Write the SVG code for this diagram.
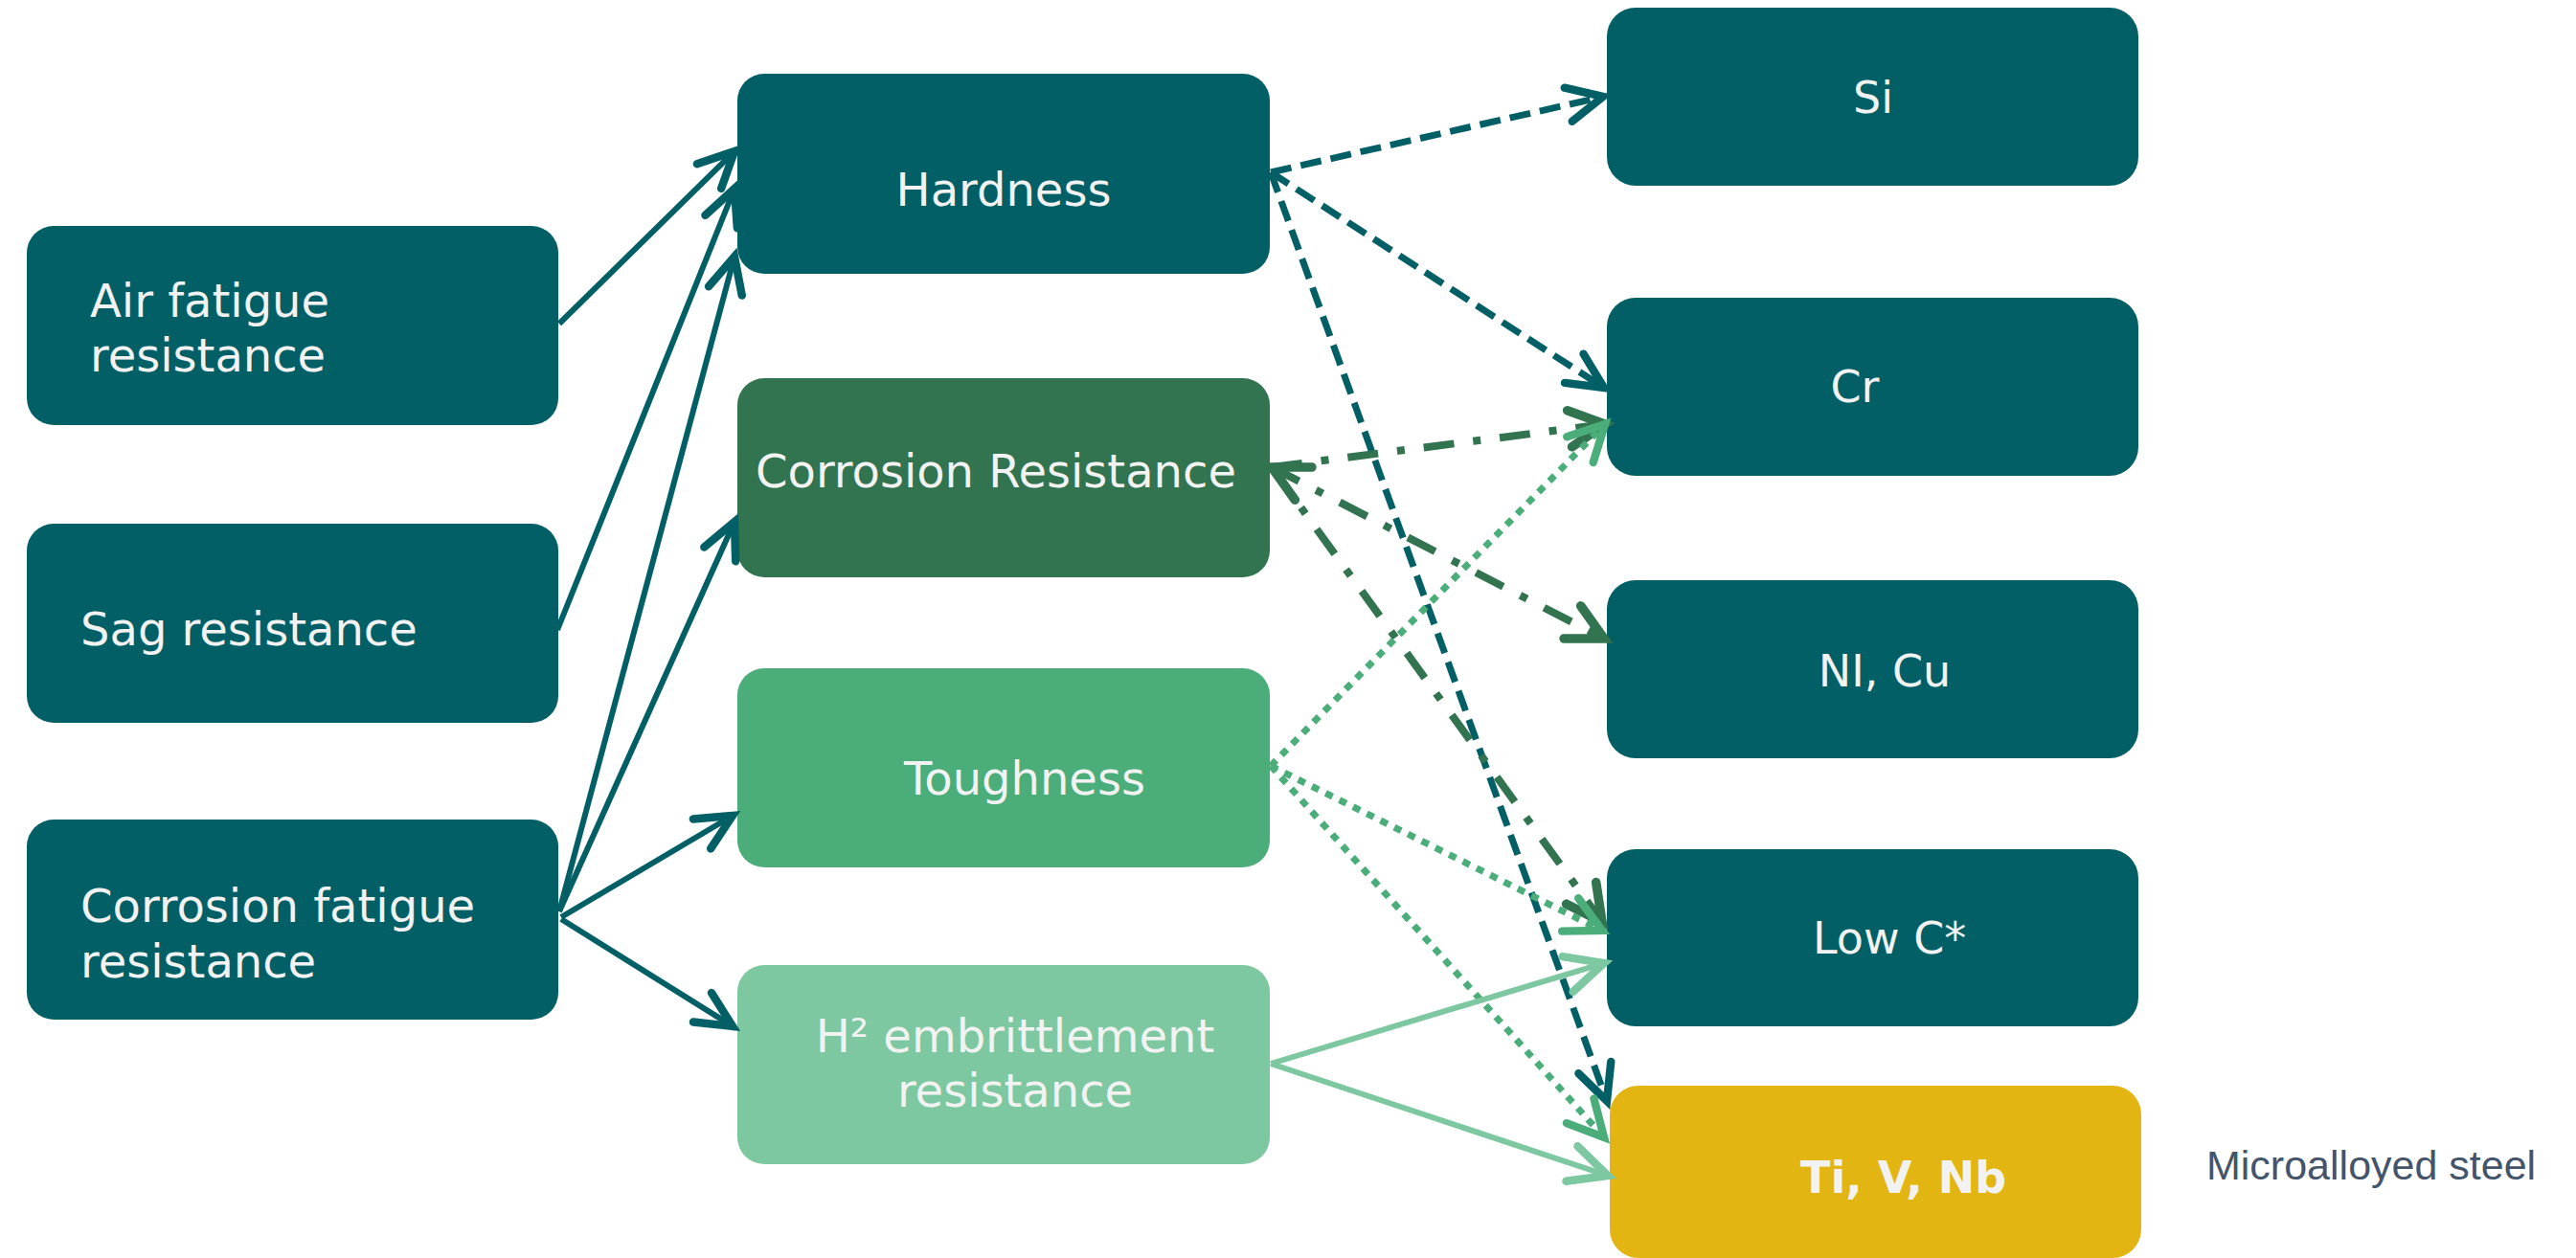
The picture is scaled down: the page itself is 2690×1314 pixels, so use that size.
<svg xmlns="http://www.w3.org/2000/svg" width="2690" height="1314" viewBox="0 0 2690 1314">
<style>
  .t { font-family: "DejaVu Sans", sans-serif; font-size: 48px; fill: #F2F2F2; }
  .tr { font-family: "DejaVu Sans", sans-serif; font-size: 46px; fill: #F2F2F2; }
  .tb { font-family: "DejaVu Sans", sans-serif; font-size: 46px; font-weight: bold; fill: #F2F2F2; }
  .teal { fill: #025F65; }
  .dkg { fill: #327350; }
  .grn { fill: #4BAE7A; }
  .lgr { fill: #7EC8A1; }
  .yel { fill: #E2B512; }
  .c-teal { stroke: #025F65; stroke-width: 6; fill: none; }
  .c-dash { stroke: #025F65; stroke-width: 7; fill: none; stroke-dasharray: 22 10; }
  .c-dd { stroke: #327350; stroke-width: 8; fill: none; stroke-dasharray: 32 20 8 20; }
  .c-dot { stroke: #4BAE7A; stroke-width: 7; fill: none; stroke-dasharray: 8 8; }
  .c-lg { stroke: #7EC8A1; stroke-width: 6; fill: none; }
</style>
<defs>
  <marker id="aTeal" markerUnits="userSpaceOnUse" markerWidth="60" markerHeight="60" viewBox="-40 -25 50 50" refX="0" refY="0" orient="auto-start-reverse" overflow="visible">
    <path d="M -31 -15 L 0 0 L -31 15" fill="none" stroke="#025F65" stroke-width="7" stroke-linecap="round" stroke-linejoin="miter"/>
  </marker>
  <marker id="aDkg" markerUnits="userSpaceOnUse" markerWidth="60" markerHeight="60" viewBox="-40 -25 50 50" refX="0" refY="0" orient="auto-start-reverse" overflow="visible">
    <path d="M -31 -16 L 0 0 L -31 16" fill="none" stroke="#327350" stroke-width="8" stroke-linecap="round"/>
  </marker>
  <marker id="aGrn" markerUnits="userSpaceOnUse" markerWidth="60" markerHeight="60" viewBox="-40 -25 50 50" refX="0" refY="0" orient="auto-start-reverse" overflow="visible">
    <path d="M -31 -16 L 0 0 L -31 16" fill="none" stroke="#4BAE7A" stroke-width="7" stroke-linecap="round"/>
  </marker>
  <marker id="aLgr" markerUnits="userSpaceOnUse" markerWidth="60" markerHeight="60" viewBox="-40 -25 50 50" refX="0" refY="0" orient="auto-start-reverse" overflow="visible">
    <path d="M -33 -16 L 0 0 L -33 16" fill="none" stroke="#7EC8A1" stroke-width="7" stroke-linecap="round"/>
  </marker>
</defs>
<rect width="2690" height="1314" fill="#FFFFFF"/>

<g id="air-fatigue">
  <rect class="teal" x="28" y="236" width="555" height="208" rx="28"/>
  <text class="t" x="94" y="331">Air fatigue</text>
  <text class="t" x="94" y="388">resistance</text>
</g>
<g id="sag-resistance">
  <rect class="teal" x="28" y="547" width="555" height="208" rx="28"/>
  <text class="t" x="84" y="674">Sag resistance</text>
</g>
<g id="corrosion-fatigue">
  <rect class="teal" x="28" y="856" width="555" height="209" rx="28"/>
  <text class="t" x="84" y="963">Corrosion fatigue</text>
  <text class="t" x="84" y="1021">resistance</text>
</g>

<g id="hardness">
  <rect class="teal" x="770" y="77" width="556" height="209" rx="28"/>
  <text class="t" x="1048" y="215" text-anchor="middle">Hardness</text>
</g>
<g id="corrosion-resistance">
  <rect class="dkg" x="770" y="395" width="556" height="208" rx="28"/>
  <text class="t" x="1040" y="509" text-anchor="middle">Corrosion Resistance</text>
</g>
<g id="toughness">
  <rect class="grn" x="770" y="698" width="556" height="208" rx="28"/>
  <text class="t" x="1070" y="830" text-anchor="middle">Toughness</text>
</g>
<g id="h2-embrittlement">
  <rect class="lgr" x="770" y="1008" width="556" height="208" rx="28"/>
  <text class="t" x="1060" y="1099" text-anchor="middle">H² embrittlement</text>
  <text class="t" x="1060" y="1156" text-anchor="middle">resistance</text>
</g>

<g id="si">
  <rect class="teal" x="1678" y="8" width="555" height="186" rx="30"/>
  <text class="tr" x="1956" y="118" text-anchor="middle">Si</text>
</g>
<g id="cr">
  <rect class="teal" x="1678" y="311" width="555" height="186" rx="30"/>
  <text class="tr" x="1937" y="420" text-anchor="middle">Cr</text>
</g>
<g id="ni-cu">
  <rect class="teal" x="1678" y="606" width="555" height="186" rx="30"/>
  <text class="tr" x="1968" y="717" text-anchor="middle">NI, Cu</text>
</g>
<g id="low-c">
  <rect class="teal" x="1678" y="887" width="555" height="185" rx="30"/>
  <text class="tr" x="1893" y="996">Low C*</text>
</g>
<g id="ti-v-nb">
  <rect class="yel" x="1681" y="1134" width="555" height="180" rx="30"/>
  <text class="tb" x="1880" y="1246">Ti, V, Nb</text>
</g>
<g id="microalloyed-label">
  <text x="2304" y="1232" font-family="Liberation Sans, sans-serif" font-size="43" fill="#44546A">Microalloyed steel</text>
</g>

<g id="connectors">
  <line class="c-teal" x1="584" y1="338" x2="767" y2="158" marker-end="url(#aTeal)"/>
  <line class="c-teal" x1="582" y1="658" x2="767" y2="197" marker-end="url(#aTeal)"/>
  <line class="c-teal" x1="584" y1="952" x2="767" y2="268" marker-end="url(#aTeal)"/>
  <line class="c-teal" x1="584" y1="952" x2="767" y2="545" marker-end="url(#aTeal)"/>
  <line class="c-teal" x1="586" y1="958" x2="765" y2="852" marker-end="url(#aTeal)"/>
  <line class="c-teal" x1="586" y1="960" x2="765" y2="1072" marker-end="url(#aTeal)"/>

  <line class="c-dash" x1="1327" y1="180" x2="1674" y2="101" marker-end="url(#aTeal)"/>
  <line class="c-dash" x1="1327" y1="180" x2="1675" y2="405" marker-end="url(#aTeal)"/>
  <line class="c-dash" x1="1327" y1="180" x2="1678" y2="1150" marker-end="url(#aTeal)"/>

  <line class="c-dd" x1="1328" y1="488" x2="1676" y2="443" marker-end="url(#aDkg)"/>
  <line class="c-dd" x1="1328" y1="488" x2="1675" y2="667" marker-start="url(#aDkg)" marker-end="url(#aDkg)"/>
  <line class="c-dd" x1="1328" y1="488" x2="1673" y2="963" marker-end="url(#aDkg)"/>

  <line class="c-dot" x1="1327" y1="800" x2="1676" y2="443" marker-end="url(#aGrn)"/>
  <line class="c-dot" x1="1327" y1="800" x2="1673" y2="972" marker-end="url(#aGrn)"/>
  <line class="c-dot" x1="1327" y1="800" x2="1675" y2="1188" marker-end="url(#aGrn)"/>

  <line class="c-lg" x1="1327" y1="1111" x2="1675" y2="1006" marker-end="url(#aLgr)"/>
  <line class="c-lg" x1="1327" y1="1111" x2="1679" y2="1228" marker-end="url(#aLgr)"/>
</g>
</svg>
